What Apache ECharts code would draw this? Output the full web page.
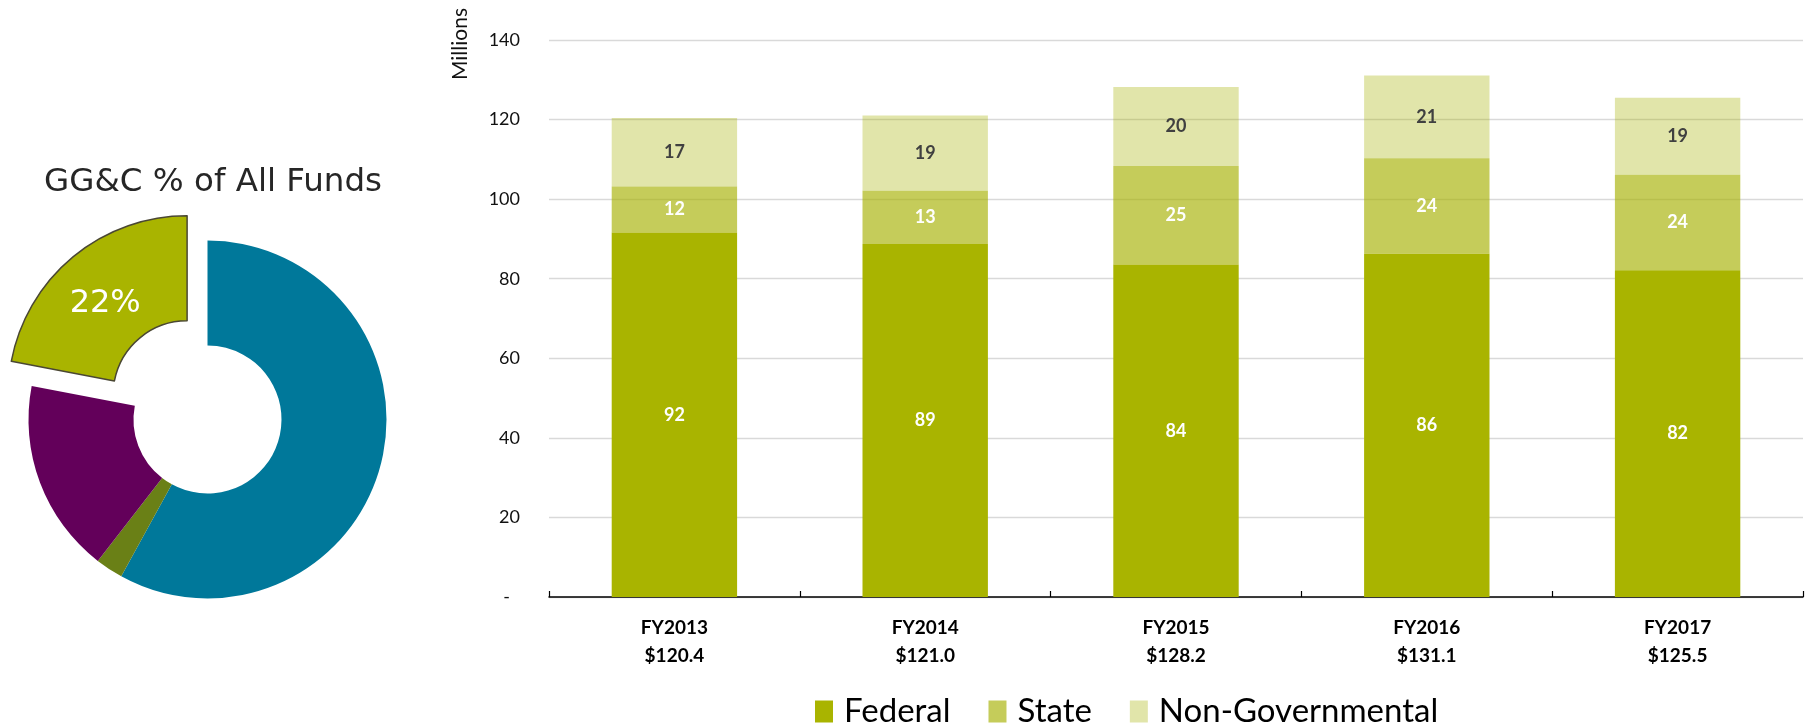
<!DOCTYPE html>
<html>
<head>
<meta charset="utf-8">
<script src="https://cdn.jsdelivr.net/npm/echarts@6/dist/echarts.min.js"></script>
<style>
  html, body { margin: 0; padding: 0; background: #fff; }
  #chart { width: 1809px; height: 727px; }
</style>
</head>
<body>
<div id="chart"></div>
<script>
// ---- Data ----
const categories = ['FY2013', 'FY2014', 'FY2015', 'FY2016', 'FY2017'];
const totals = [120.4, 121.0, 128.2, 131.1, 125.5];
const federal = [91.6, 88.7, 83.6, 86.3, 82.1];
const state = [11.6, 13.4, 24.7, 24.0, 24.0];
const nonGov = [17.2, 18.9, 19.9, 20.8, 19.4];
const seriesNames = ['Federal', 'State', 'Non-Governmental'];
const yMin = 0, yMax = 140, yStep = 20;

const pieNames = ['Other Funds A', 'Other Funds B', 'Other Funds C', 'GG&C'];
const pieValues = [58, 2.5, 17.5, 22];
const pieTitle = 'GG&C % of All Funds';
const axisName = 'Millions';

// ---- Styles ----
const colFederal = '#a9b400';
const colState = 'rgba(166,177,1,0.65)';
const colNonGov = 'rgba(166,177,1,0.335)';
const pieColors = ['#00789a', '#6a8016', '#63005a', '#a9b400'];
const LATO = 'Lato';

const chart = echarts.init(document.getElementById('chart'), null, { renderer: 'canvas' });

function barLabel(color) {
  return {
    show: true,
    position: 'inside',
    formatter: p => String(Math.round(p.value)),
    fontFamily: LATO,
    fontWeight: 'bold',
    fontSize: 18,
    color: color,
    textBorderWidth: 0
  };
}

const option = {
  animation: false,
  backgroundColor: '#fff',
  graphic: [
    {
      type: 'text', x: 213, y: 183, z: 10,
      style: { text: pieTitle, fontFamily: 'DejaVu Sans', fontSize: 32.5, fill: '#262626', align: 'center', verticalAlign: 'middle' }
    },
    {
      type: 'text', x: 460, y: 44, rotation: Math.PI / 2, z: 10,
      style: { text: axisName, fontFamily: LATO, fontSize: 21, fill: '#111', align: 'center', verticalAlign: 'middle' }
    }
  ],
  legend: {
    data: seriesNames,
    left: 810,
    top: 690,
    icon: 'rect',
    itemWidth: 18,
    itemHeight: 22,
    itemGap: 38,
    textStyle: { fontFamily: LATO, fontSize: 33, color: '#000', padding: [0, 0, 0, 6] }
  },
  grid: { left: 549, right: 6, top: 40, bottom: 130 },
  xAxis: {
    type: 'category',
    data: categories,
    axisLine: { show: true, lineStyle: { color: '#000', width: 1.5 } },
    axisTick: { show: true, inside: true, length: 6, lineStyle: { color: '#000', width: 1.2 } },
    axisLabel: {
      fontFamily: LATO, fontWeight: 'bold', fontSize: 19, color: '#000',
      lineHeight: 28, margin: 17,
      formatter: (v, i) => v + '\n$' + totals[i].toFixed(1)
    },
    splitLine: { show: false }
  },
  yAxis: {
    type: 'value',
    min: yMin, max: yMax, interval: yStep,
    axisLine: { show: false },
    axisTick: { show: false },
    splitLine: { show: true, lineStyle: { color: '#d9d9d9', width: 1.3 } },
    axisLabel: {
      fontFamily: LATO, fontSize: 18, color: '#111', margin: 29,
      formatter: v => v === 0 ? '{d|-}' : String(v),
      rich: { d: { fontFamily: LATO, fontSize: 18, color: '#111', padding: [0, 10, 0, 0] } }
    }
  },
  series: [
    {
      name: seriesNames[0], type: 'bar', stack: 'total', barWidth: '50%',
      data: federal, itemStyle: { color: colFederal },
      label: barLabel('#fff'), emphasis: { disabled: true }
    },
    {
      name: seriesNames[1], type: 'bar', stack: 'total', barWidth: '50%',
      data: state, itemStyle: { color: colState },
      label: barLabel('#fff'), emphasis: { disabled: true }
    },
    {
      name: seriesNames[2], type: 'bar', stack: 'total', barWidth: '50%',
      data: nonGov, itemStyle: { color: colNonGov },
      label: barLabel('#404040'), emphasis: { disabled: true }
    },
    {
      name: 'funds', type: 'pie',
      center: [207.5, 419.5],
      radius: [74, 179],
      startAngle: 90,
      clockwise: true,
      selectedMode: 'single',
      selectedOffset: 32,
      avoidLabelOverlap: false,
      label: { show: false },
      labelLine: { show: false },
      emphasis: { disabled: true },
      data: pieValues.map((v, i) => {
        const item = { name: pieNames[i], value: v, itemStyle: { color: pieColors[i], borderWidth: 0 } };
        if (i === pieValues.length - 1) {
          const st = { color: pieColors[i], borderColor: '#4a4733', borderWidth: 1.5 };
          const lbl = {
            show: true, position: 'inside', formatter: '{c}%',
            fontFamily: 'DejaVu Sans', fontSize: 32, color: '#fff', textBorderWidth: 0,
            offset: [6, 5]
          };
          item.selected = true;
          item.itemStyle = st;
          item.select = { itemStyle: st, label: lbl };
          item.label = lbl;
        }
        return item;
      })
    }
  ]
};

chart.setOption(option);
</script>
</body>
</html>
